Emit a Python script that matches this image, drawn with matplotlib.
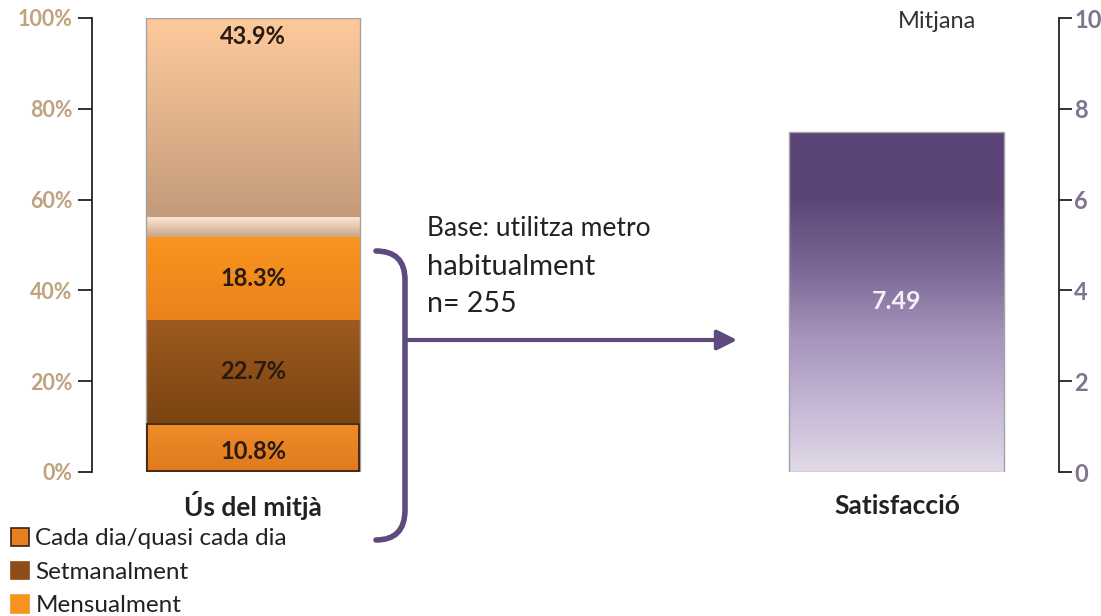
import matplotlib
matplotlib.use("Agg")
import matplotlib.pyplot as plt
import numpy as np
from matplotlib.patches import Rectangle, PathPatch
from matplotlib.path import Path
from matplotlib.colors import LinearSegmentedColormap

plt.rcParams['font.family'] = ['Lato', 'DejaVu Sans']

# ---------------- data ----------------
use_categories = ["Cada dia/quasi cada dia", "Setmanalment", "Mensualment", "Altres", "Ocasionalment"]
use_values = [10.8, 22.7, 18.3, 4.3, 43.9]
use_labels = ["10.8%", "22.7%", "18.3%", "", "43.9%"]
legend_items = ["Cada dia/quasi cada dia", "Setmanalment", "Mensualment"]
left_ticks = [0, 20, 40, 60, 80, 100]
left_ticklabels = ["0%", "20%", "40%", "60%", "80%", "100%"]
sat_value = 7.49
right_ticks = [0, 2, 4, 6, 8, 10]
bar_titles = ["Ús del mitjà", "Satisfacció"]
base_text = ["Base: utilitza metro", "habitualment", "n= 255"]

# gradient stops (bottom -> top) per segment
seg_grad = [["#E07A1E", "#F08C2A"],
            ["#7A4412", "#9E5A1E"],
            ["#EA821C", "#F9951F"],
            ["#C7A68A", "#FDE6D2"],
            ["#C39A7A", "#E2B48C", "#FDCA9C"]]
seg_edge = ["#3A2412", None, None, None, None]
purple_grad = ["#E2DAE8", "#C4B6D4", "#A593BC", "#7A6794", "#5C4678", "#5A4477"]

W, H = 1101, 616
fig = plt.figure(figsize=(W / 100, H / 100), dpi=100)


def fx(px):
    return px / W


def fy(py):
    return 1 - py / H


def grad_fill(ax, patch, stops):
    x, y = patch.get_x(), patch.get_y()
    w, h = patch.get_width(), patch.get_height()
    cmap = LinearSegmentedColormap.from_list("g", stops)
    grad = np.linspace(0, 1, 256).reshape(-1, 1)
    im = ax.imshow(grad, cmap=cmap, aspect="auto", origin="lower",
                   extent=[x, x + w, y, y + h], zorder=2)
    im.set_clip_path(patch)


# ---------------- left axes ----------------
axL = fig.add_axes([fx(92), fy(472), fx(400 - 92), fy(18) - fy(472)])
axL.set_xlim(0, 308)
axL.set_ylim(0, 100)
bottom = 0
for i, v in enumerate(use_values):
    bars = axL.bar(161, v, width=214, bottom=bottom, color=seg_grad[i][0],
                   edgecolor="none", zorder=1)
    p = bars[0]
    grad_fill(axL, p, seg_grad[i])
    if seg_edge[i]:
        axL.add_patch(Rectangle((p.get_x() + 1, p.get_y() + 0.15), p.get_width() - 2,
                                p.get_height() - 0.3, fill=False,
                                edgecolor=seg_edge[i], lw=1.3, zorder=4))
    if use_labels[i]:
        ypos = bottom + v / 2 if i < 4 else 100 - 4
        if i == 0:
            ypos = bottom + v / 2 - 0.8
        axL.text(161, ypos, use_labels[i], ha="center", va="center",
                 fontsize=17, fontweight="bold", color="#2A1A10", zorder=5)
    bottom += v
axL.add_patch(Rectangle((54, 0), 214, 100, fill=False, edgecolor="#A8A0A0",
                        lw=1, zorder=3))

for s in ["top", "right", "bottom"]:
    axL.spines[s].set_visible(False)
axL.spines["left"].set_color("#222222")
axL.spines["left"].set_linewidth(1.3)
axL.set_yticks(left_ticks)
axL.set_yticklabels(left_ticklabels, fontweight="bold")
axL.tick_params(axis="y", length=10, width=1.3, color="#222222",
                labelsize=15.5, labelcolor="#BFA27E", pad=4)
axL.set_xticks([])
axL.set_facecolor("none")

# ---------------- right axes ----------------
axR = fig.add_axes([fx(760), fy(472), fx(1059 - 760), fy(18) - fy(472)])
axR.set_xlim(0, 299)
axR.set_ylim(0, 10)
rb = axR.bar(136.5, sat_value, width=215, color=purple_grad[0], edgecolor="none", zorder=1)[0]
grad_fill(axR, rb, purple_grad)
axR.add_patch(Rectangle((rb.get_x(), 0), rb.get_width(), sat_value, fill=False,
                        edgecolor="#A8A0A8", lw=1, zorder=3))
axR.text(136.5, sat_value * 0.5 + 0.0, f"{sat_value:.2f}", ha="center", va="center",
         fontsize=18, fontweight="bold", color="#F4EEF8", zorder=5)
for s in ["top", "left", "bottom"]:
    axR.spines[s].set_visible(False)
axR.spines["right"].set_color("#222222")
axR.spines["right"].set_linewidth(1.3)
axR.yaxis.tick_right()
axR.set_yticks(right_ticks)
axR.set_yticklabels([str(t) for t in right_ticks], fontweight="bold")
axR.tick_params(axis="y", length=9, width=1.3, color="#222222",
                labelsize=17, labelcolor="#7E7490", pad=2)
axR.set_xticks([])
axR.set_facecolor("none")

# ---------------- texts ----------------
fig.text(fx(253), fy(506), bar_titles[0], ha="center", va="center",
         fontsize=19, fontweight="bold", color="#222222")
fig.text(fx(897), fy(506), bar_titles[1], ha="center", va="center",
         fontsize=19, fontweight="bold", color="#222222")
fig.text(fx(937), fy(22), "Mitjana", ha="center", va="center",
         fontsize=17, color="#333333")
fig.text(fx(427), fy(229), base_text[0], ha="left", va="center",
         fontsize=19, color="#222222")
fig.text(fx(427), fy(267), base_text[1], ha="left", va="center",
         fontsize=21, color="#222222")
fig.text(fx(427), fy(304), base_text[2], ha="left", va="center",
         fontsize=20.5, color="#222222")

# ---------------- bracket & arrow ----------------
pc = "#5E4A7E"
verts = [(fx(376), fy(251)), (fx(405), fy(251)), (fx(405), fy(280)),
         (fx(405), fy(510)),
         (fx(405), fy(540)), (fx(376), fy(540))]
codes = [Path.MOVETO, Path.CURVE3, Path.CURVE3, Path.LINETO, Path.CURVE3, Path.CURVE3]
fig.add_artist(PathPatch(Path(verts, codes), transform=fig.transFigure,
                         fill=False, edgecolor=pc, lw=4, capstyle="round"))
fig.add_artist(matplotlib.patches.FancyArrowPatch(
    (fx(405), fy(340)), (fx(740), fy(340)), transform=fig.transFigure,
    arrowstyle="-|>,head_length=12,head_width=6", color=pc, lw=3, mutation_scale=1))

# ---------------- legend ----------------
leg_colors = [("#E8801F", "#3A2412"), ("#8E4C16", "#8E4C16"), ("#F7931F", "#F7931F")]
handles = [Rectangle((0, 0), 1, 1, facecolor=c, edgecolor=e, lw=1.2) for c, e in leg_colors]
fig.legend(handles, legend_items, loc="upper left",
           bbox_to_anchor=(fx(11), fy(528)), frameon=False, fontsize=17.5,
           handlelength=0.75, handleheight=0.75, handletextpad=0.25,
           labelspacing=0.5, borderaxespad=0, borderpad=0,
           labelcolor="#222222")

fig.savefig("out.png", dpi=100)
